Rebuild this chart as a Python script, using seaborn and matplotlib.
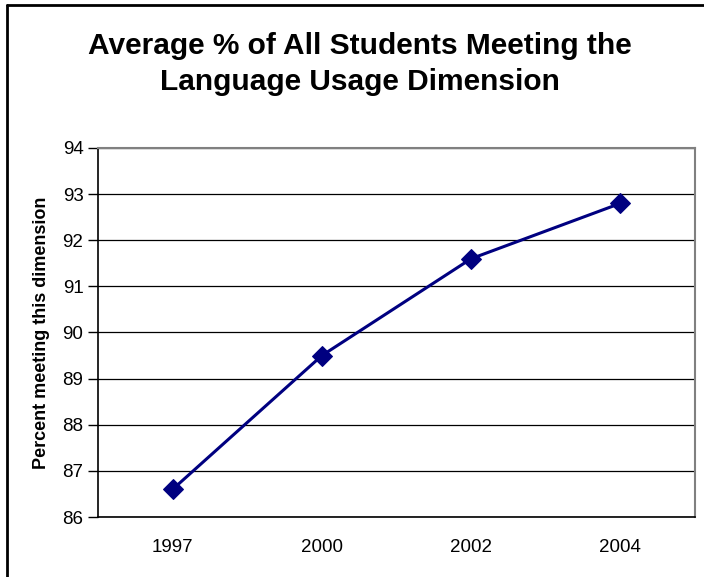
import matplotlib
matplotlib.use("Agg")
import matplotlib.pyplot as plt
from matplotlib.lines import Line2D
from matplotlib.ticker import FixedLocator
import seaborn as sns
import pandas as pd

years = ["1997", "2000", "2002", "2004"]
percent_meeting = [86.6, 89.5, 91.6, 92.8]
y_ticks = [86, 87, 88, 89, 90, 91, 92, 93, 94]

df = pd.DataFrame({"year": years, "pct": percent_meeting})

sns.set_theme(style="white")
plt.rcParams["font.family"] = ["Liberation Sans", "DejaVu Sans"]

W, H = 704, 577
fig = plt.figure(figsize=(W / 100, H / 100), dpi=100)
ax = fig.add_axes([98 / W, 1 - 517 / H, (695 - 98) / W, (517 - 148) / H])

sns.lineplot(data=df, x="year", y="pct", ax=ax, color="#000080", linewidth=2.2,
             marker="D", markersize=10, markeredgecolor="#000080", sort=False)

ax.set_xlim(-0.5, 3.5)
ax.set_ylim(86, 94)
ax.set_yticks(y_ticks)
ax.set_yticklabels([str(t) for t in y_ticks], fontsize=13.5, color="black")
ax.set_xticks(range(len(years)))
ax.set_xticklabels(years, fontsize=13.5, color="black")
ax.xaxis.set_minor_locator(FixedLocator([-0.5, 0.5, 1.5, 2.5, 3.5]))
ax.tick_params(axis="x", which="major", length=0, pad=16)
ax.tick_params(axis="x", which="minor", length=6, width=1, color="black", direction="out")
ax.tick_params(axis="y", length=7, width=1, color="black", direction="out", left=True, pad=3.5)

ax.grid(axis="y", color="black", linewidth=0.9)
ax.grid(axis="x", visible=False)
ax.set_axisbelow(True)

for side in ["left", "bottom"]:
    ax.spines[side].set_color("black")
    ax.spines[side].set_linewidth(1.2)
for side in ["top", "right"]:
    ax.spines[side].set_color("#808080")
    ax.spines[side].set_linewidth(1.5)

ax.set_xlabel("")
ax.set_ylabel("Percent meeting this dimension", fontsize=13, fontweight="bold",
              color="black", labelpad=9)

fig.text(360 / W, 1 - 64 / H, "Average % of All Students Meeting the\nLanguage Usage Dimension",
         ha="center", va="center", fontsize=21.5, fontweight="bold", color="black",
         linespacing=1.36)

# outer chart frame (left and top edges)
fig.add_artist(Line2D([7 / W, 7 / W], [0, 1 - 5 / H], transform=fig.transFigure,
                      color="black", linewidth=2))
fig.add_artist(Line2D([7 / W, 1], [1 - 5 / H, 1 - 5 / H], transform=fig.transFigure,
                      color="black", linewidth=2))

fig.savefig("out.png", dpi=100)
